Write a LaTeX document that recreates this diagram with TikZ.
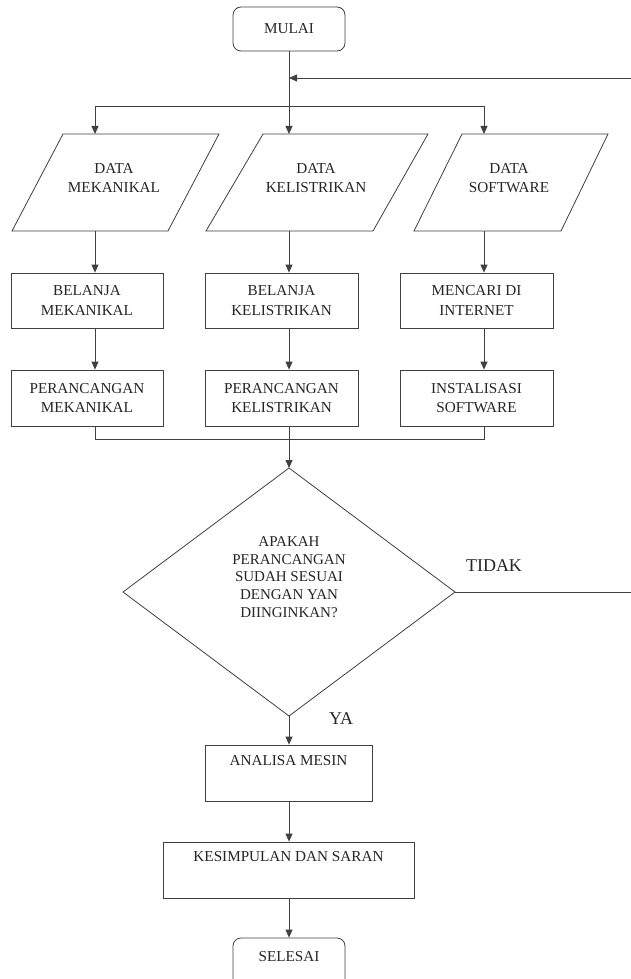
\documentclass[tikz,border=0pt]{standalone}
\usepackage{fontspec}
\setmainfont{Liberation Serif}
\usetikzlibrary{arrows.meta,calc}
\begin{document}
\begin{tikzpicture}[x=1pt,y=-1pt,
  ln/.style={draw=black!75,line width=0.8pt},
  arr/.style={ln,-{Triangle[length=8pt,width=7pt]}},
  boxnode/.style={draw=black!75,line width=0.8pt,minimum height=55pt,inner sep=0pt,align=center,
    font=\fontsize{15.2}{19.5}\selectfont,text=black!85},
  termnode/.style={draw=black!75,line width=0.8pt,rounded corners=8pt,inner sep=0pt,
    minimum width=112pt,font=\fontsize{15.2}{19.5}\selectfont,text=black!85},
  txt/.style={font=\fontsize{15.2}{19.5}\selectfont,align=center,text=black!85,inner sep=0pt},
  lbl/.style={font=\fontsize{18}{20}\selectfont,text=black!85,inner sep=0pt},
]
\useasboundingbox (0,0) rectangle (631,979);
\clip (0,0) rectangle (631,979);
\fill[white] (0,0) rectangle (631,979);

% start
\node[termnode,minimum height=44pt] (mulai) at (289,29) {MULAI};

% stem coordinates
\coordinate (sL) at (95,0);
\coordinate (sM) at (289,0);
\coordinate (sR) at (484,0);
\coordinate (fbR) at (633,78);
\coordinate (fbJ) at (289,78);
\coordinate (jB) at (289,106);
\coordinate (jM) at (289,439);

% parallelograms
\draw[ln] (63,134) -- (219,134) -- (168,231) -- (12,231) -- cycle;
\draw[ln] (263,134) -- (428,134) -- (373,231) -- (206,231) -- cycle;
\draw[ln] (462,134) -- (608,134) -- (561,231) -- (414,231) -- cycle;
\coordinate (pLt) at (95,134); \coordinate (pLb) at (95,231);
\coordinate (pMt) at (289,134); \coordinate (pMb) at (289,231);
\coordinate (pRt) at (484,134); \coordinate (pRb) at (484,231);
\node[txt] (tL) at (114,178) {DATA\\MEKANIKAL};
\node[txt] (tM) at (316,178) {DATA\\KELISTRIKAN};
\node[txt] (tR) at (509,178) {DATA\\SOFTWARE};

% boxes row 1
\node[boxnode,minimum width=152pt] (b1) at (87,300.5) {BELANJA\\MEKANIKAL};
\node[boxnode,minimum width=153pt] (b3) at (281.5,300.5) {BELANJA\\KELISTRIKAN};
\node[boxnode,minimum width=153pt] (b5) at (476.5,300.5) {MENCARI DI\\INTERNET};
% boxes row 2
\node[boxnode,minimum width=152pt,minimum height=56pt] (b2) at (87,398) {PERANCANGAN\\MEKANIKAL};
\node[boxnode,minimum width=153pt,minimum height=56pt] (b4) at (281.5,398) {PERANCANGAN\\KELISTRIKAN};
\node[boxnode,minimum width=153pt,minimum height=56pt] (b6) at (476.5,398) {INSTALISASI\\SOFTWARE};

% diamond
\coordinate (dT) at (289,468);
\coordinate (dR) at (455,592);
\coordinate (dB) at (289,716);
\coordinate (dL) at (123,592);
\draw[ln] (dT) -- (dR) -- (dB) -- (dL) -- cycle;
\node[txt,font=\fontsize{15}{17.8}\selectfont] (q) at (289,577) {APAKAH\\PERANCANGAN\\SUDAH SESUAI\\DENGAN YAN\\DIINGINKAN?};
\node[lbl] (ya) at (341,719) {YA};
\node[lbl] (tidak) at (494,566) {TIDAK};
\coordinate (tR2) at (633,592);

% lower boxes
\node[draw=black!75,line width=0.8pt,minimum width=167pt,minimum height=56pt,inner sep=0pt] (ana) at (288.5,773) {};
\node[txt] (anat) at (288.5,761) {ANALISA MESIN};
\node[draw=black!75,line width=0.8pt,minimum width=251pt,minimum height=56pt,inner sep=0pt] (kes) at (288.5,870) {};
\node[txt] (kest) at (288.5,857) {KESIMPULAN DAN SARAN};
\node[termnode,minimum height=60pt] (sel) at (289,968) {};
\node[txt] (selt) at (289,957) {SELESAI};

% connectors
\draw[arr] (mulai.south) -- (pMt);
\draw[arr] (fbR) -- (fbJ);
\draw[arr] (jB) -| (pLt);
\draw[arr] (jB) -| (pRt);
\draw[arr] (pLb) -- (sL |- b1.north);
\draw[arr] (pMb) -- (sM |- b3.north);
\draw[arr] (pRb) -- (sR |- b5.north);
\draw[arr] (sL |- b1.south) -- (sL |- b2.north);
\draw[arr] (sM |- b3.south) -- (sM |- b4.north);
\draw[arr] (sR |- b5.south) -- (sR |- b6.north);
\draw[ln] (sL |- b2.south) |- (jM);
\draw[ln] (sR |- b6.south) |- (jM);
\draw[arr] (sM |- b4.south) -- (dT);
\draw[ln] (dR) -- (tR2);
\draw[arr] (dB) -- (sM |- ana.north);
\draw[arr] (sM |- ana.south) -- (sM |- kes.north);
\draw[arr] (sM |- kes.south) -- (sM |- sel.north);
\end{tikzpicture}
\end{document}
